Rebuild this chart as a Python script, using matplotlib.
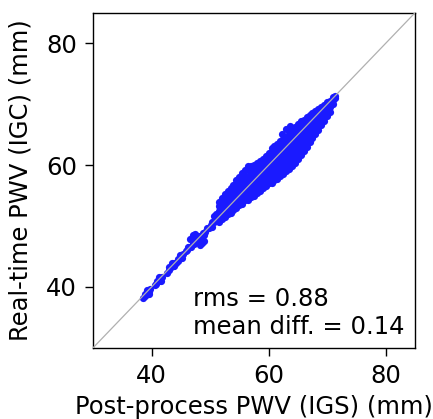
import matplotlib
matplotlib.use("Agg")
import matplotlib.pyplot as plt

# ---- data ----
# sparse tail of the cloud (x = IGS post-process PWV, y = IGC real-time PWV)
tail_x = [38.6, 38.9, 39.2, 39.5, 39.3, 39.8, 38.8, 39.6,
          40.6, 40.9, 41.2, 41.5, 41.8, 41.3, 40.8, 41.6,
          42.6, 43.0, 43.3, 43.6, 43.9, 44.2, 44.5, 44.8, 45.1, 45.4, 43.5, 44.6,
          42.9, 43.8, 44.9, 45.2,
          45.8, 46.1, 46.4, 46.7, 47.0, 47.3, 47.6, 47.9, 48.2, 48.5, 48.8,
          46.6, 47.0, 47.4, 48.3, 48.6, 48.9, 49.2, 49.5, 49.8,
          46.2, 47.8, 49.0,
          50.1, 50.4, 50.7, 51.0, 50.6, 51.0, 50.3, 51.3, 51.3,
          62.3, 62.9, 63.6]
tail_y = [38.2, 38.5, 38.9, 39.1, 39.5, 39.6, 38.9, 38.8,
          40.3, 40.9, 41.0, 41.4, 41.7, 41.6, 40.4, 41.0,
          42.3, 42.8, 43.3, 43.4, 43.9, 44.0, 44.6, 44.8, 45.0, 45.4, 43.9, 44.2,
          43.3, 43.4, 45.2, 44.7,
          45.9, 46.0, 46.5, 46.5, 47.2, 47.1, 47.7, 47.8, 48.4, 48.3, 48.9,
          47.9, 48.6, 48.7, 46.9, 47.2, 47.5, 49.1, 49.6, 49.7,
          46.6, 48.3, 48.6,
          50.1, 50.6, 50.6, 51.2, 51.6, 52.0, 49.8, 50.9, 51.6,
          65.2, 65.9, 66.4]

# dense core of the cloud, column by column
core_x = [51.5, 52.0, 52.5, 53.0, 53.5, 54.0, 54.5, 55.0, 55.5, 56.0,
          56.5, 57.0, 57.5, 58.0, 58.5, 59.0, 59.5, 60.0, 60.5, 61.0,
          61.5, 62.0, 62.5, 63.0, 63.5, 64.0, 64.5, 65.0, 65.5, 66.0,
          66.5, 67.0, 67.5, 68.0, 68.5, 69.0, 69.5, 70.0, 70.5, 71.0, 71.3]
core_y = [
    [50.7, 51.6, 52.5, 53.3, 54.0],
    [51.2, 52.1, 53.0, 53.9, 54.6],
    [51.5, 52.4, 53.3, 54.3, 55.3],
    [52.0, 52.9, 53.8, 54.8, 55.7],
    [52.2, 53.2, 54.2, 55.2, 56.2],
    [52.7, 53.7, 54.7, 55.7, 56.7],
    [52.9, 53.9, 54.9, 55.9, 56.8, 57.5],
    [53.4, 54.4, 55.4, 56.4, 57.3, 58.1],
    [53.7, 54.7, 55.7, 56.7, 57.7, 58.7],
    [54.2, 55.2, 56.2, 57.2, 58.2, 59.2],
    [54.3, 55.3, 56.3, 57.3, 58.3, 59.3, 59.8],
    [54.8, 55.8, 56.8, 57.8, 58.8, 59.8],
    [55.0, 56.0, 57.0, 58.0, 59.0, 60.0],
    [55.5, 56.5, 57.5, 58.5, 59.5, 60.4],
    [55.7, 56.7, 57.7, 58.7, 59.7, 60.7],
    [56.2, 57.2, 58.2, 59.2, 60.2, 61.0],
    [56.5, 57.5, 58.5, 59.5, 60.5, 61.5],
    [57.0, 58.0, 59.0, 60.0, 61.0, 62.0],
    [57.1, 58.1, 59.1, 60.1, 61.1, 62.1, 62.8],
    [57.6, 58.6, 59.6, 60.6, 61.6, 62.6, 63.1],
    [57.8, 58.8, 59.8, 60.8, 61.8, 62.8, 63.5],
    [58.3, 59.3, 60.3, 61.3, 62.3, 63.3, 63.9],
    [58.5, 59.5, 60.5, 61.5, 62.5, 63.5, 64.3],
    [59.0, 60.0, 61.0, 62.0, 63.0, 64.0, 64.7],
    [59.3, 60.3, 61.3, 62.3, 63.3, 64.3, 65.2],
    [59.9, 60.9, 61.9, 62.9, 63.9, 64.9, 65.7],
    [60.3, 61.3, 62.3, 63.3, 64.3, 65.3, 66.2],
    [61.0, 62.0, 63.0, 64.0, 65.0, 66.0, 66.7],
    [61.7, 62.7, 63.7, 64.7, 65.7, 66.7, 67.2],
    [62.4, 63.4, 64.4, 65.4, 66.4, 67.4],
    [63.0, 64.0, 65.0, 66.0, 67.0, 67.9],
    [63.8, 64.8, 65.8, 66.8, 67.8, 68.3],
    [64.4, 65.4, 66.4, 67.4, 68.3, 68.6],
    [65.2, 66.2, 67.2, 68.2, 68.9],
    [65.8, 66.8, 67.8, 68.7, 69.3],
    [66.6, 67.6, 68.6, 69.5],
    [67.2, 68.2, 69.1, 69.9],
    [68.0, 69.0, 69.8, 70.3],
    [68.7, 69.6, 70.5],
    [70.0, 70.7, 71.2],
    [71.1, 71.4],
]

x_ticks = [40, 60, 80]
y_ticks = [40, 60, 80]
axis_range = [30, 85]
stats_lines = ["rms = 0.88", "mean diff. = 0.14"]

# ---- figure ----
xs = list(tail_x)
ys = list(tail_y)
for cx, col in zip(core_x, core_y):
    for cy in col:
        xs.append(cx)
        ys.append(cy)

fig = plt.figure(figsize=(4.33, 4.19), dpi=100)
ax = fig.add_axes([0.215, 0.170, 0.743, 0.799])

ax.scatter(xs, ys, s=27, color="#1a1aff", linewidths=0, zorder=2)
ax.plot(axis_range, axis_range, color="#b0b0b0", lw=0.9, zorder=3)

ax.set_xlim(axis_range)
ax.set_ylim(axis_range)
ax.set_xticks(x_ticks)
ax.set_yticks(y_ticks)
ax.tick_params(labelsize=17.5, length=5.5, width=1, pad=6)
for sp in ax.spines.values():
    sp.set_linewidth(1.0)

ax.set_xlabel("Post-process PWV (IGS) (mm)", fontsize=17.5, labelpad=5)
ax.set_ylabel("Real-time PWV (IGC) (mm)", fontsize=17.5, labelpad=10)

ax.text(47.1, 36.9, stats_lines[0], fontsize=17.5, ha="left", va="baseline")
ax.text(47.1, 32.2, stats_lines[1], fontsize=17.5, ha="left", va="baseline")

fig.savefig("out.png", dpi=100)
